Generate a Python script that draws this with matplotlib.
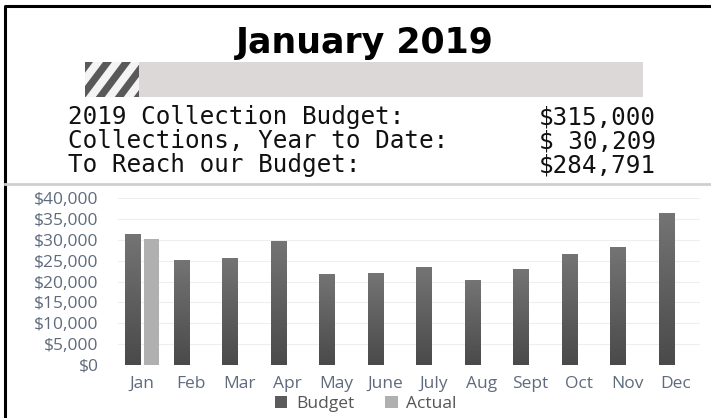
import numpy as np
import matplotlib.pyplot as plt
from matplotlib.patches import Rectangle, Polygon
from matplotlib.ticker import FuncFormatter
from matplotlib.colors import LinearSegmentedColormap

# ---- data ----
months = ['Jan', 'Feb', 'Mar', 'Apr', 'May', 'June', 'July', 'Aug', 'Sept', 'Oct', 'Nov', 'Dec']
budget = [31300, 25200, 25700, 29800, 21800, 21950, 23470, 20280, 22900, 26590, 28200, 36330]
actual = [30209, 0, 0, 0, 0, 0, 0, 0, 0, 0, 0, 0]

title = 'January 2019'
summary_labels = ['2019 Collection Budget:', 'Collections, Year to Date:', 'To Reach our Budget:']
summary_values = ['$315,000', '$ 30,209', '$284,791']
year_budget = 315000
ytd = 30209

W, H = 711, 418
fig = plt.figure(figsize=(W / 100, H / 100), dpi=100)

# background axes in pixel coords (y down)
bg = fig.add_axes([0, 0, 1, 1])
bg.set_xlim(0, W); bg.set_ylim(H, 0); bg.axis('off')

# frame + separator
bg.plot([5, 5, W], [H, 6, 6], color='black', lw=2.2, solid_capstyle='butt')
bg.plot([5, W], [184, 184], color='#cfcfcf', lw=2)

bg.text(365, 43, title, ha='center', va='center', fontsize=25,
        fontweight='heavy', family='DejaVu Sans', color='black')

# progress bar
bx0, bx1, by0, by1 = 85, 643, 62, 97
bg.add_patch(Rectangle((bx0, by0), bx1 - bx0, by1 - by0, color='#dcd8d8', lw=0))
fill_w = (bx1 - bx0) * ytd / year_budget
clip = Rectangle((bx0, by0), fill_w, by1 - by0, color='#f4f4f4', lw=0)
bg.add_patch(clip)
hgt = by1 - by0
slant = 0.75 * hgt
for s in np.arange(bx0 - slant - 20, bx0 + fill_w + 20, 19.0):
    stripe = Polygon([(s, by1), (s + 9, by1), (s + 9 + slant, by0), (s + slant, by0)],
                     closed=True, color='#595959', lw=0)
    bg.add_patch(stripe)
    stripe.set_clip_path(clip)

# summary text
for i, (lab, val) in enumerate(zip(summary_labels, summary_values)):
    yy = 117 + i * 24
    bg.text(68, yy, lab, ha='left', va='center', family='DejaVu Sans Mono',
            fontsize=17.5, color='#111111')
    bg.text(656, yy, val, ha='right', va='center', family='DejaVu Sans Mono',
            fontsize=17.5, color='#111111')

# ---- bar chart ----
ax = fig.add_axes([118 / W, 1 - 365 / H, 582 / W, 167 / H])
x = np.arange(len(months))
wbar = 0.31
b1 = ax.bar(x - 0.195, budget, width=wbar, color='#5b5b5b', label='Budget', zorder=3)
b2 = ax.bar(x + 0.195, actual, width=wbar, color='#b0b0b0', label='Actual', zorder=3)

# vertical gradient on budget bars (darker at the bottom)
shade = LinearSegmentedColormap.from_list('shade', ['#4a4a4a', '#747474'])
grad = np.linspace(0, 1, 100).reshape(-1, 1)
for p in b1:
    x0, y0 = p.get_x(), p.get_y()
    im = ax.imshow(grad, extent=(x0, x0 + p.get_width(), y0, y0 + p.get_height()),
                   origin='lower', cmap=shade, aspect='auto', zorder=4)
    im.set_clip_path(p)

ax.set_xlim(-0.5, len(months) - 0.5)
ax.set_ylim(0, 40000)
ax.set_yticks(np.arange(0, 40001, 5000))
ax.yaxis.set_major_formatter(FuncFormatter(lambda v, p: f'${v:,.0f}'))
ax.set_xticks(x)
ax.set_xticklabels(months)
ax.grid(axis='y', color='#eeeeee', lw=0.8, zorder=0)
for sp in ax.spines.values():
    sp.set_visible(False)
ax.tick_params(length=0, labelsize=12.5, labelcolor='#5f6b7d')
ax.tick_params(axis='y', pad=14)
ax.tick_params(axis='x', pad=8)
for t in ax.get_xticklabels() + ax.get_yticklabels():
    t.set_family('Open Sans')

ax.legend(loc='center', bbox_to_anchor=(0.426, -0.235), ncol=2, frameon=False,
          prop={'family': 'Open Sans', 'size': 12.5}, labelcolor='#555555',
          handlelength=0.7, handleheight=0.7, handletextpad=0.5, columnspacing=1.8,
          borderpad=0)

fig.savefig('out.png', dpi=100)
